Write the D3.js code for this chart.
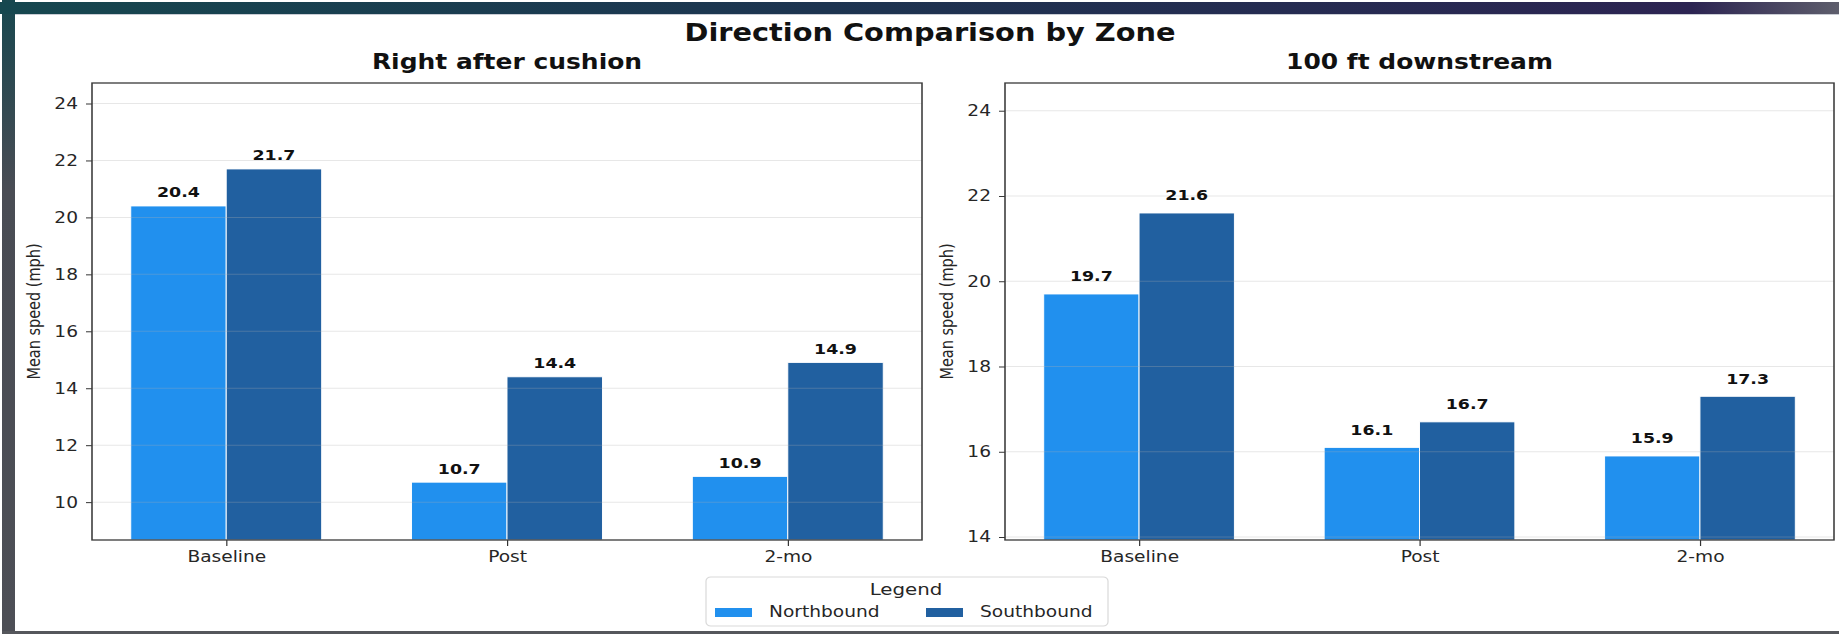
<!DOCTYPE html>
<html>
<head>
<meta charset="utf-8">
<script src="https://cdn.jsdelivr.net/npm/d3@7"></script>
<style>
  body { margin: 0; background: #fff; }
  svg { display: block; font-family: "DejaVu Sans", sans-serif; }
</style>
</head>
<body>
<div id="chart"></div>
<script>
// chart data
var categories = ["Baseline", "Post", "2-mo"];
var zones = ["Right after cushion", "100 ft downstream"];
var seriesNames = ["Northbound", "Southbound"];
var seriesColors = ["#2190ee", "#2160a0"];
var cushionNorth = [20.4, 10.7, 10.9];
var cushionSouth = [21.7, 14.4, 14.9];
var downstreamNorth = [19.7, 16.1, 15.9];
var downstreamSouth = [21.6, 16.7, 17.3];
var cushionTicks = [10, 12, 14, 16, 18, 20, 22, 24];
var downstreamTicks = [14, 16, 18, 20, 22, 24];

var svgWidth = 1839;
var svgHeight = 634;

// the picture is stretched sideways, so draw in a squeezed space and scale back
var SX = 1.2;
function vx(a) { return a / SX; }

var panels = [
  { title: zones[0], left: 92, right: 922, yDomain: [8.67, 24.72], ticks: cushionTicks,
    values: [cushionNorth, cushionSouth], labelX: 39.5 },
  { title: zones[1], left: 1005, right: 1834, yDomain: [13.93, 24.65], ticks: downstreamTicks,
    values: [downstreamNorth, downstreamSouth], labelX: 953 }
];
var plotTop = 83;
var plotBottom = 540;
var barWidth = 0.34;

var svg = d3.select("#chart")
  .append("svg")
  .attr("width", svgWidth)
  .attr("height", svgHeight);

// window frame around the screenshot
var defs = svg.append("defs");
var topGrad = defs.append("linearGradient").attr("id", "topband");
topGrad.append("stop").attr("offset", "0%").attr("stop-color", "#16474f");
topGrad.append("stop").attr("offset", "45%").attr("stop-color", "#1d3450");
topGrad.append("stop").attr("offset", "92%").attr("stop-color", "#2c2452");
topGrad.append("stop").attr("offset", "100%").attr("stop-color", "#5e5e6c");
var sideGrad = defs.append("linearGradient").attr("id", "sideband")
  .attr("x1", 0).attr("y1", 0).attr("x2", 0).attr("y2", 1);
sideGrad.append("stop").attr("offset", "0%").attr("stop-color", "#18474f");
sideGrad.append("stop").attr("offset", "30%").attr("stop-color", "#494c54");
sideGrad.append("stop").attr("offset", "100%").attr("stop-color", "#4d4f56");

svg.append("rect").attr("x", 2).attr("y", 0).attr("width", 13).attr("height", svgHeight)
  .attr("fill", "url(#sideband)");
svg.append("rect").attr("x", 0).attr("y", 2).attr("width", svgWidth).attr("height", 12)
  .attr("fill", "url(#topband)");
svg.append("rect").attr("x", 15).attr("y", 14).attr("width", svgWidth - 15).attr("height", 1)
  .attr("fill", "#c9ccd4");
svg.append("rect").attr("x", 2).attr("y", 631).attr("width", svgWidth).attr("height", 3)
  .attr("fill", "#55575c");

var g = svg.append("g").attr("transform", `scale(${SX},1)`);

g.append("text")
  .attr("x", vx(930))
  .attr("y", 41)
  .attr("text-anchor", "middle")
  .attr("font-size", 24)
  .attr("font-weight", "bold")
  .attr("fill", "#111")
  .text("Direction Comparison by Zone");

panels.forEach(function(p) {
  var xScale = d3.scaleLinear()
    .domain([-0.478, categories.length - 1 + 0.478])
    .range([vx(p.left), vx(p.right)]);
  var yScale = d3.scaleLinear()
    .domain(p.yDomain)
    .range([plotBottom, plotTop]);

  var pg = g.append("g");

  // bars
  p.values.forEach(function(vals, s) {
    pg.selectAll(".bar" + s)
      .data(vals)
      .enter()
      .append("rect")
      .attr("x", (d, i) => xScale(i - barWidth + s * barWidth))
      .attr("width", xScale(barWidth) - xScale(0))
      .attr("y", d => yScale(d))
      .attr("height", d => plotBottom - yScale(d))
      .attr("fill", seriesColors[s])
      .attr("stroke", "#fff")
      .attr("stroke-width", 0.8);
  });

  // grid drawn over the bars, faint
  pg.selectAll(".grid")
    .data(p.ticks)
    .enter()
    .append("line")
    .attr("x1", vx(p.left))
    .attr("x2", vx(p.right))
    .attr("y1", d => yScale(d))
    .attr("y2", d => yScale(d))
    .attr("stroke", "#b0b0b0")
    .attr("stroke-opacity", 0.3)
    .attr("stroke-width", 1);

  // value labels
  p.values.forEach(function(vals, s) {
    pg.selectAll(".lab" + s)
      .data(vals)
      .enter()
      .append("text")
      .attr("x", (d, i) => xScale(i - barWidth / 2 + s * barWidth))
      .attr("y", d => yScale(d + 0.3))
      .attr("text-anchor", "middle")
      .attr("font-size", 14.5)
      .attr("font-weight", "bold")
      .attr("fill", "#111")
      .text(d => d.toFixed(1));
  });

  // axes
  var leftAxis = d3.axisLeft(yScale)
    .tickValues(p.ticks)
    .tickSize(vx(6))
    .tickPadding(vx(8));
  var yg = pg.append("g")
    .attr("transform", `translate(${vx(p.left)},0)`)
    .call(leftAxis);
  yg.select(".domain").remove();
  yg.selectAll("text").attr("font-size", 15.5).attr("fill", "#262626")
    .attr("font-family", "DejaVu Sans");
  yg.selectAll("line").attr("stroke", "#333");

  var bottomAxis = d3.axisBottom(xScale)
    .tickValues(d3.range(categories.length))
    .tickFormat(i => categories[i])
    .tickSize(6)
    .tickPadding(5);
  var xg = pg.append("g")
    .attr("transform", `translate(0,${plotBottom})`)
    .call(bottomAxis);
  xg.select(".domain").remove();
  xg.selectAll("text").attr("font-size", 15.5).attr("fill", "#262626")
    .attr("font-family", "DejaVu Sans");
  xg.selectAll("line").attr("stroke", "#333");

  // spines
  pg.append("rect")
    .attr("x", vx(p.left))
    .attr("y", plotTop)
    .attr("width", vx(p.right - p.left))
    .attr("height", plotBottom - plotTop)
    .attr("fill", "none")
    .attr("stroke", "#3a3a3a")
    .attr("stroke-width", 1.3);

  pg.append("text")
    .attr("x", vx((p.left + p.right) / 2))
    .attr("y", 69)
    .attr("text-anchor", "middle")
    .attr("font-size", 20.8)
    .attr("font-weight", "bold")
    .attr("fill", "#111")
    .text(p.title);

  pg.append("text")
    .attr("transform", `translate(${vx(p.labelX)},${(plotTop + plotBottom) / 2}) rotate(-90)`)
    .attr("text-anchor", "middle")
    .attr("font-size", 14.5)
    .attr("fill", "#262626")
    .text("Mean speed (mph)");
});

// legend
var legend = g.append("g");
legend.append("rect")
  .attr("x", vx(706))
  .attr("y", 577)
  .attr("width", vx(402))
  .attr("height", 49)
  .attr("rx", 4)
  .attr("fill", "#fff")
  .attr("stroke", "#d9d9d9")
  .attr("stroke-width", 1);
legend.append("text")
  .attr("x", vx(906))
  .attr("y", 595)
  .attr("text-anchor", "middle")
  .attr("font-size", 16.5)
  .attr("fill", "#262626")
  .text("Legend");
var patchX = [715, 926];
seriesNames.forEach(function(name, s) {
  legend.append("rect")
    .attr("x", vx(patchX[s]))
    .attr("y", 608)
    .attr("width", vx(37))
    .attr("height", 9)
    .attr("fill", seriesColors[s]);
  legend.append("text")
    .attr("x", vx(patchX[s] + 54))
    .attr("y", 617)
    .attr("font-size", 15.5)
    .attr("fill", "#262626")
    .text(name);
});
</script>
</body>
</html>
